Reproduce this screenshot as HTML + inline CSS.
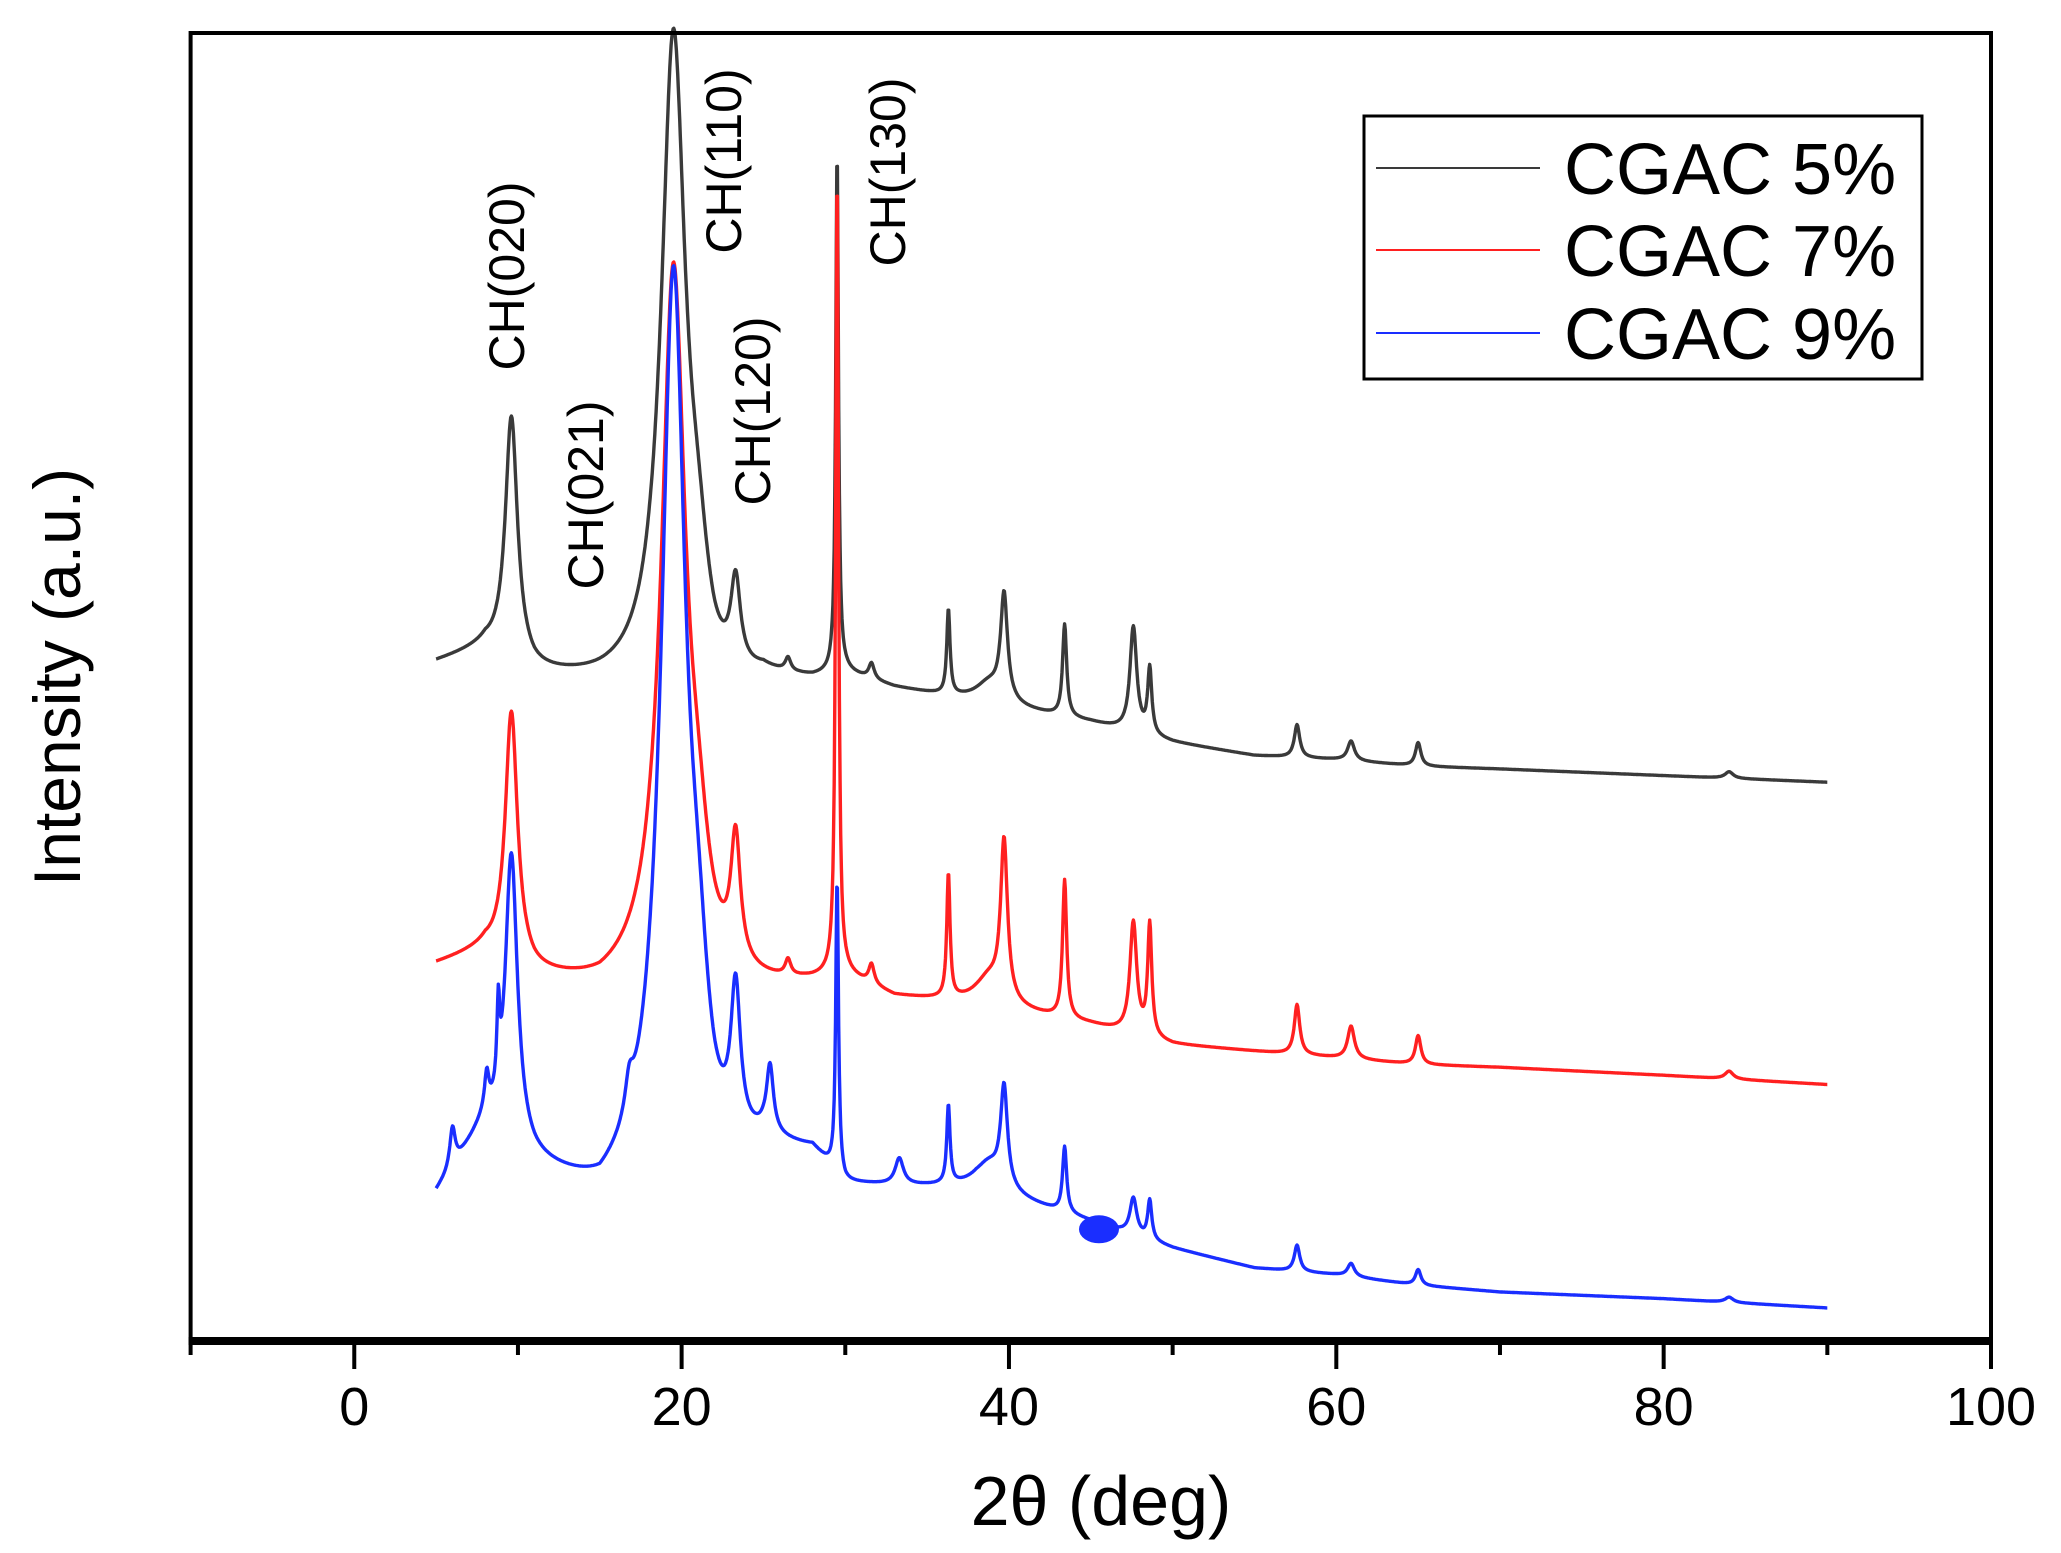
<!DOCTYPE html>
<html><head><meta charset="utf-8"><style>
html,body{margin:0;padding:0;background:#fff;}
svg{display:block;font-family:"Liberation Sans",Arial,sans-serif;}
</style></head><body>
<svg id="chart" width="2061" height="1553" viewBox="0 0 2061 1553" xmlns="http://www.w3.org/2000/svg">
<rect width="2061" height="1553" fill="#fff"/>
<g id="series"></g>
<g id="frame"></g>
<g id="ticks"></g>
<text x="1101" y="1525" font-size="70" text-anchor="middle">2θ (deg)</text>
<text transform="translate(80,677) rotate(-90)" font-size="66" text-anchor="middle">Intensity (a.u.)</text>
<g font-size="50">
<text transform="translate(524,276) rotate(-90)" text-anchor="middle">CH(020)</text>
<text transform="translate(603,495) rotate(-90)" text-anchor="middle">CH(021)</text>
<text transform="translate(741,161) rotate(-90)" text-anchor="middle">CH(110)</text>
<text transform="translate(770,411) rotate(-90)" text-anchor="middle">CH(120)</text>
<text transform="translate(905,172) rotate(-90)" text-anchor="middle">CH(130)</text>
</g>
<g>
<rect x="1364" y="116" width="558" height="263" fill="#fff" stroke="#000" stroke-width="3"/>
<line x1="1376" y1="168" x2="1540" y2="168" stroke="#3a3a3a" stroke-width="2"/>
<text x="1564" y="194" font-size="72">CGAC 5%</text>
<line x1="1376" y1="250" x2="1540" y2="250" stroke="#ff2020" stroke-width="2"/>
<text x="1564" y="276" font-size="72">CGAC 7%</text>
<line x1="1376" y1="333" x2="1540" y2="333" stroke="#1a2eff" stroke-width="2"/>
<text x="1564" y="359" font-size="72">CGAC 9%</text>
</g>
</svg>
<script>
// ---- data ----
const xTicks = [0, 20, 40, 60, 80, 100];
const xMinorTicks = [-10, 10, 30, 50, 70, 90];
const peakPos = [6.0, 8.1, 8.8, 9.6, 16.8, 19.5, 21.0, 23.3, 25.4, 26.5, 29.5, 31.6, 33.3, 36.3, 38.8, 39.7, 43.4, 47.6, 48.6, 57.6, 60.9, 65.0, 84.0];
const peakWidth = [0.2, 0.15, 0.1, 0.45, 0.3, 0.9, 0.8, 0.35, 0.25, 0.2, 0.1, 0.2, 0.3, 0.12, 1.0, 0.25, 0.15, 0.25, 0.15, 0.2, 0.25, 0.2, 0.3];
const heights5 = [0, 0, 0, 185, 0, 495, 60, 65, 0, 10, 400, 12, 0, 65, 15, 80, 70, 80, 50, 25, 15, 18, 5];
const heights7 = [0, 0, 0, 190, 0, 540, 60, 95, 0, 12, 615, 15, 0, 95, 20, 120, 105, 85, 85, 38, 25, 22, 6];
const heights9 = [30, 25, 60, 220, 25, 680, 90, 110, 50, 0, 225, 0, 20, 60, 20, 75, 50, 28, 30, 20, 10, 12, 4];
const baseX = [5, 8, 11, 15, 18, 22, 25, 28, 30, 33, 38, 45, 50, 55, 60, 65, 70, 80, 90];
const base5 = [515, 525, 505, 498, 495, 480, 500, 500, 505, 495, 485, 470, 455, 445, 442, 437, 435, 430, 425];
const base7 = [285, 295, 275, 265, 270, 260, 265, 270, 275, 260, 255, 240, 225, 220, 215, 210, 208, 202, 195];
const base9 = [110, 160, 130, 105, 120, 110, 140, 140, 115, 115, 115, 90, 70, 55, 50, 42, 37, 32, 25];
const blobX = 45.5, blobI = 85;

// ---- axes ----
const X0 = 190.6, X1 = 1991, Y0 = 1341;
const sx = v => X0 + (v + 10) * (X1 - X0) / 110;
const sy = v => Y0 - v * 1.3144;
const NS = "http://www.w3.org/2000/svg";
function mk(tag, attrs, parent) { const e = document.createElementNS(NS, tag); for (const k in attrs) e.setAttribute(k, attrs[k]); parent.appendChild(e); return e; }

function baseAt(bx, by, x) {
  if (x <= bx[0]) return by[0];
  for (let i = 1; i < bx.length; i++) if (x <= bx[i]) { const t = (x - bx[i-1]) / (bx[i] - bx[i-1]); return by[i-1] + t * (by[i] - by[i-1]); }
  return by[by.length - 1];
}
function intensity(x, base, h) {
  let v = baseAt(baseX, base, x);
  for (let i = 0; i < peakPos.length; i++) { const d = (x - peakPos[i]) / peakWidth[i]; v += h[i] / (1 + d * d); }
  return v;
}
const g = document.getElementById('series');
const defs = [[base5, heights5, '#3a3a3a', 'series-cgac-5'], [base7, heights7, '#ff2020', 'series-cgac-7'], [base9, heights9, '#1a2eff', 'series-cgac-9']];
defs.forEach(([b, h, c, n]) => {
  let d = '';
  for (let x = 5; x <= 90.0001; x += 0.04) d += (d ? 'L' : 'M') + sx(x).toFixed(1) + ',' + sy(intensity(x, b, h)).toFixed(1);
  const p = mk('path', { d: d, fill: 'none', stroke: c, 'stroke-width': 3.4, 'stroke-linejoin': 'round' }, g);
  
  
});
const blob = mk('ellipse', { cx: sx(blobX), cy: sy(blobI), rx: 20, ry: 14, fill: '#1a2eff' }, g);



// frame
const f = document.getElementById('frame');
const fr = mk('path', { d: `M${X0},${Y0}V33H${X1}V${Y0}`, fill: 'none', stroke: '#000', 'stroke-width': 4 }, f);


const ax = mk('line', { x1: X0 - 2, y1: Y0, x2: X1 + 2, y2: Y0, stroke: '#000', 'stroke-width': 8 }, f);



const t = document.getElementById('ticks');
xTicks.forEach(v => {
  const l = mk('line', { x1: sx(v), y1: Y0, x2: sx(v), y2: Y0 + 28, stroke: '#000', 'stroke-width': 4 }, t);
  
  
  const tx = mk('text', { x: sx(v), y: Y0 + 84, 'font-size': 54, 'text-anchor': 'middle' }, t);
  tx.textContent = v;
  
  
});
xMinorTicks.forEach(v => {
  const l = mk('line', { x1: sx(v), y1: Y0, x2: sx(v), y2: Y0 + 14, stroke: '#000', 'stroke-width': 4 }, t);
  
  
});
</script>
</body></html>
